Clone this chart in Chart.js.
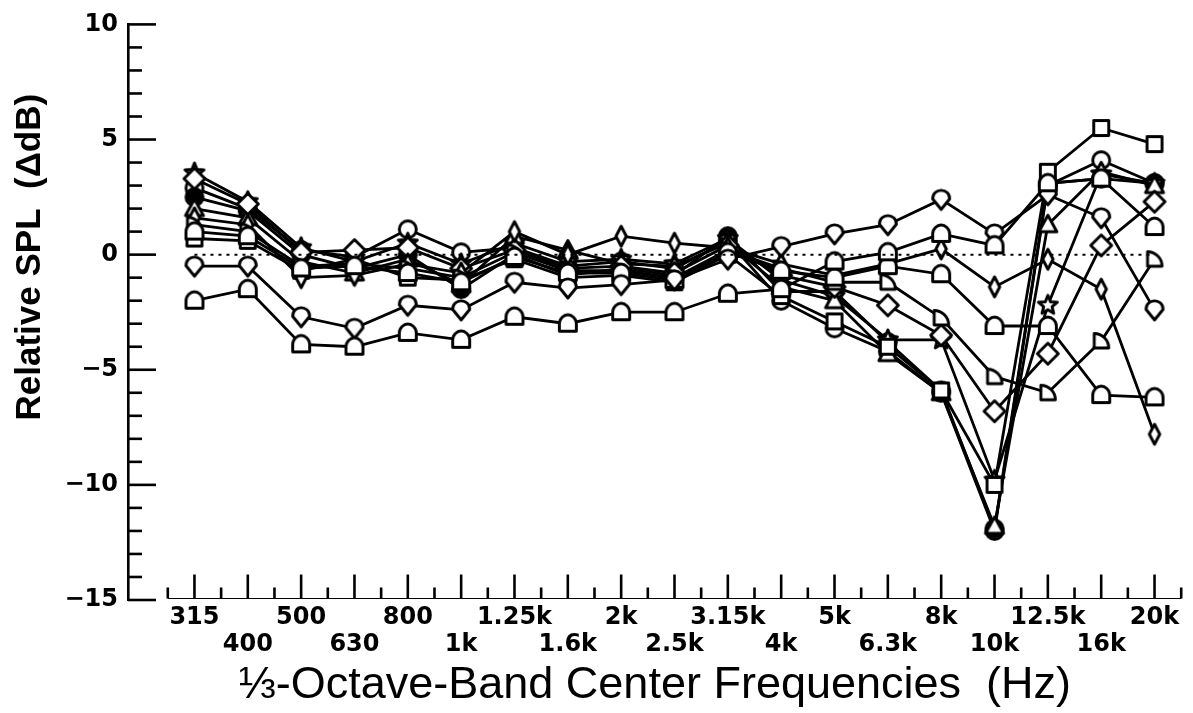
<!DOCTYPE html>
<html><head><meta charset="utf-8">
<script src="https://cdn.jsdelivr.net/npm/chart.js@4.4.0/dist/chart.umd.min.js"></script>
<style>html,body{margin:0;padding:0;background:#fff;overflow:hidden}</style>
</head><body>
<canvas id="c" width="1193" height="713"></canvas>
<script>
// ---- data ----
const categories = ['315','400','500','630','800','1k','1.25k','1.6k','2k','2.5k','3.15k','4k','5k','6.3k','8k','10k','12.5k','16k','20k'];
const yTickValues = [-15,-10,-5,0,5,10];
const referenceLine = [0,0,0,0,0,0,0,0,0,0,0,0,0,0,0,0,0,0,0];
const seriesHouse    = [-2.0,-1.5,-3.9,-4.0,-3.4,-3.7,-2.7,-3.0,-2.5,-2.5,-1.7,-1.5,-0.3, 0.1, 0.9, 0.4, 3.1, 3.3, 1.2];
const seriesDrop     = [-0.5,-0.5,-2.7,-3.2,-2.2,-2.4,-1.2,-1.45,-1.3,-1.1,-0.2,0.35,0.9, 1.3, 2.4, 0.9, 2.6, 1.6,-2.4];
const seriesSquare   = [ 0.7, 0.6,-0.7,-0.2,-1.0,-1.1,-0.2,-1.0,-0.9,-1.2, 0.0,-1.8,-2.9,-4.0,-5.9,-10.0,3.6, 5.5, 4.8];
const seriesCircle   = [ 2.9, 2.0, 0.2,-0.1, 1.1, 0.1, 0.3,-0.5,-0.3,-0.6, 0.6,-2.0,-3.2,-4.2,-6.0,-12.0,3.0, 4.1, 3.1];
const seriesStar     = [ 3.55,2.3, 0.3,-0.3, 0.5,-0.4, 0.5,-0.3,-0.2,-0.4, 0.7,-1.1,-1.8,-3.7,-3.7,-9.8,-2.2, 3.5, 3.1];
const seriesTriangle = [ 2.0, 1.6,-0.3,-0.8,-0.2,-1.3, 0.8, 0.2,-0.4,-0.5, 0.5,-1.4,-2.0,-4.3,-6.0,-11.8,1.3, 3.6, 3.0];
const seriesFilled   = [ 2.5, 1.9, 0.0,-0.6, 0.0,-1.5, 0.0,-0.9,-0.6,-0.9, 0.8,-1.6,-1.6,-3.8,-5.9,-11.9,3.1, 3.3, 3.1];
const seriesDiamond  = [ 3.3, 2.2, 0.1, 0.2, 0.3,-0.6, 0.2,-0.6,-0.5,-0.8, 0.4,-0.9,-1.4,-2.2,-3.5,-6.8,-4.3, 0.4, 2.3];
const seriesLozenge  = [ 1.6, 1.3,-1.0,-0.9,-0.4,-0.8, 1.0, 0.0, 0.8, 0.5, 0.3,-0.4,-0.9,-0.4, 0.25,-1.4,-0.2,-1.5,-7.8];
const seriesQuarter  = [ 1.3, 1.0,-0.5,-0.4,-0.6,-1.0, 0.1,-0.7,-0.7,-1.0, 0.2,-0.6,-1.2,-1.2,-2.75,-5.3,-6.0,-3.75,-0.2];
const seriesHouse2   = [ 1.0, 0.8,-0.6,-0.5,-0.8,-1.2,-0.1,-0.8,-0.8,-1.1, 0.1,-0.7,-1.0,-0.5,-0.85,-3.1,-3.1,-6.1,-6.2];

// ---- marker glyphs ----
function marker(path, filled) {
  const c = document.createElement('canvas');
  c.width = 28; c.height = 28;
  const g = c.getContext('2d');
  g.translate(14, 14);
  g.lineWidth = 2.9; g.lineJoin = 'round';
  g.strokeStyle = '#000'; g.fillStyle = filled ? '#000' : '#fff';
  g.beginPath(); path(g); g.closePath(); g.fill(); g.stroke();
  return c;
}
const M = {
  circle: marker(g => g.arc(0, 0, 8.5, 0, Math.PI * 2)),
  filled: marker(g => g.arc(0, 0, 8.5, 0, Math.PI * 2), true),
  square: marker(g => g.rect(-7.5, -7.5, 15, 15)),
  triangle: marker(g => { g.moveTo(0, -9.5); g.lineTo(9, 7); g.lineTo(-9, 7); }),
  star: marker(g => { for (let k = 0; k < 10; k++) { const r = k % 2 ? 4.4 : 10; const a = -Math.PI / 2 + k * Math.PI / 5; g.lineTo(r * Math.cos(a), r * Math.sin(a)); } }),
  diamond: marker(g => { g.moveTo(0, -10.5); g.lineTo(10.5, 0); g.lineTo(0, 10.5); g.lineTo(-10.5, 0); }),
  lozenge: marker(g => { g.moveTo(0, -10); g.lineTo(5.2, 0); g.lineTo(0, 10); g.lineTo(-5.2, 0); }),
  house: marker(g => { g.moveTo(-8.5, 7.5); g.lineTo(8.5, 7.5); g.lineTo(8.5, 0); g.bezierCurveTo(8.5, -5.5, 3.8, -9, 0, -9); g.bezierCurveTo(-3.8, -9, -8.5, -5.5, -8.5, 0); }),
  drop: marker(g => { g.moveTo(0, 10); g.lineTo(-8.5, -0.5); g.bezierCurveTo(-8.5, -12, 8.5, -12, 8.5, -0.5); }),
  quarter: marker(g => { g.moveTo(-7, 7); g.lineTo(7.5, 7); g.arc(-7, 7, 14.5, 0, -Math.PI / 2, true); })
};

const seriesList = [
  ['house', seriesHouse], ['drop', seriesDrop], ['house2', seriesHouse2], ['quarter', seriesQuarter],
  ['lozenge', seriesLozenge], ['diamond', seriesDiamond], ['square', seriesSquare], ['triangle', seriesTriangle],
  ['star', seriesStar], ['filled', seriesFilled], ['circle', seriesCircle]
];
const styleOf = { house2: 'house' };

const datasets = [{
  data: referenceLine.map((v, i) => ({ x: i, y: v })),
  borderColor: '#000', borderWidth: 2, borderDash: [3, 5], pointRadius: 0, fill: false
}].concat(seriesList.map(([name, vals]) => ({
  label: name,
  data: vals.map((v, i) => ({ x: i, y: v })),
  borderColor: '#000', borderWidth: 2.8, fill: false, tension: 0,
  pointStyle: M[styleOf[name] || name], pointRadius: 9, pointHoverRadius: 9
})));

// ---- axis ticks (inward) and vertical title ----
const axisMarks = {
  id: 'axisMarks',
  beforeDatasetsDraw(chart) {
    const { ctx, chartArea, scales: { x, y } } = chart;
    ctx.save();
    ctx.strokeStyle = '#000';
    ctx.lineWidth = 2.6;
    for (let v = y.min; v <= y.max; v++) {
      const py = y.getPixelForValue(v);
      const len = (v % 5 === 0) ? 28 : 14;
      ctx.beginPath(); ctx.moveTo(chartArea.left, py); ctx.lineTo(chartArea.left + len, py); ctx.stroke();
    }
    const by = chartArea.bottom - 1.5;
    ctx.lineWidth = 1.2;
    ctx.beginPath();
    ctx.moveTo(x.getPixelForValue(-0.5), by);
    ctx.lineTo(x.getPixelForValue(categories.length - 0.5), by);
    ctx.stroke();
    ctx.lineWidth = 2.6;
    for (let k = -1; k <= 2 * categories.length - 1; k++) {
      const px = x.getPixelForValue(k / 2);
      const len = (k % 2 === 0) ? 24 : 11;
      ctx.beginPath(); ctx.moveTo(px, by); ctx.lineTo(px, by - len); ctx.stroke();
    }
    ctx.restore();
  },
  afterDraw(chart) {
    const { ctx, chartArea } = chart;
    ctx.save();
    ctx.translate(30, (chartArea.top + chartArea.bottom) / 2 - 55);
    ctx.rotate(-Math.PI / 2);
    ctx.font = 'bold 35px "Liberation Sans", Arial, sans-serif';
    ctx.fillStyle = '#000';
    ctx.textAlign = 'center';
    ctx.textBaseline = 'middle';
    ctx.fillText('Relative SPL  (\u0394dB)', 0, 0);
    ctx.restore();
  }
};

new Chart(document.getElementById('c'), {
  type: 'line',
  data: { datasets },
  plugins: [axisMarks],
  options: {
    responsive: false, animation: false, devicePixelRatio: 1,
    layout: { padding: { top: 18, right: 3, left: 0, bottom: 0 } },
    plugins: { legend: { display: false }, tooltip: { enabled: false } },
    scales: {
      x: {
        type: 'linear', min: -1.246, max: 18.5,
        afterBuildTicks: s => { s.ticks = categories.map((c, i) => ({ value: i })); },
        afterFit: s => { s.height = 113; },
        grid: { display: false, drawTicks: false },
        border: { display: false },
        ticks: {
          autoSkip: false, maxRotation: 0, minRotation: 0, padding: 4, color: '#000',
          font: { family: '"DejaVu Sans", sans-serif', size: 24, weight: 'bold', lineHeight: 1.13 },
          callback: v => (v % 2 === 0) ? categories[v] : ['', categories[v]]
        },
        title: {
          display: true, text: '\u2153-Octave-Band Center Frequencies  (Hz)', color: '#000',
          font: { family: '"Liberation Sans", Arial, sans-serif', size: 45, weight: 'normal', lineHeight: 1.2 },
          padding: { top: 0, bottom: 0 }
        }
      },
      y: {
        min: -15, max: 10,
        afterBuildTicks: s => { s.ticks = yTickValues.map(v => ({ value: v })); },
        afterFit: s => { s.width = 128; },
        grid: { display: false, drawTicks: false },
        border: { display: true, color: '#000', width: 2.6 },
        ticks: {
          padding: 10, color: '#000',
          font: { family: '"DejaVu Sans", sans-serif', size: 24, weight: 'bold' },
          callback: v => v < 0 ? '\u2212' + Math.abs(v) : String(v)
        }
      }
    }
  }
});
</script>
</body></html>
